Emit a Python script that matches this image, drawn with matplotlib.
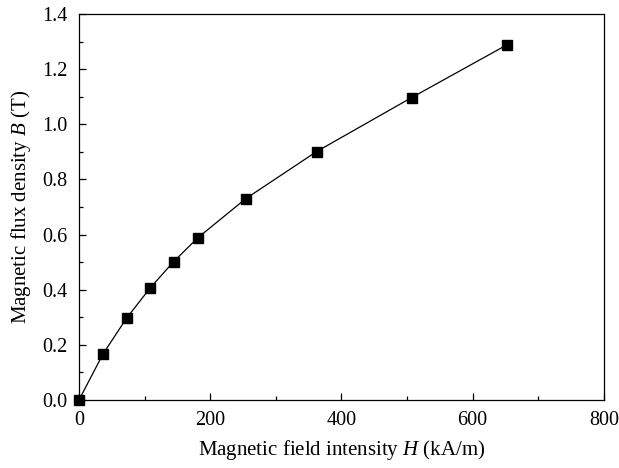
import numpy as np
import matplotlib.pyplot as plt
from matplotlib.ticker import MultipleLocator

H = [0, 36.6, 72.6, 108.7, 144.3, 180.9, 254, 362, 507, 652]
B = [0.0, 0.167, 0.297, 0.407, 0.502, 0.588, 0.730, 0.901, 1.097, 1.288]

plt.rcParams['font.family'] = 'Liberation Serif'
plt.rcParams['mathtext.fontset'] = 'custom'
plt.rcParams['mathtext.it'] = 'Liberation Serif:italic'
plt.rcParams['mathtext.rm'] = 'Liberation Serif'

fig = plt.figure(figsize=(6.19, 4.68), dpi=100)
ax = fig.add_axes([0.1276, 0.1453, 0.848, 0.8247])

ax.plot(H, B, color='black', lw=0.9, marker='s', ms=7, mfc='black', mec='black',
        clip_on=False, zorder=3)

ax.set_xlim(0, 800)
ax.set_ylim(0, 1.4)
ax.xaxis.set_major_locator(MultipleLocator(200))
ax.xaxis.set_minor_locator(MultipleLocator(100))
ax.yaxis.set_major_locator(MultipleLocator(0.2))
ax.yaxis.set_minor_locator(MultipleLocator(0.1))
ax.yaxis.set_major_formatter(plt.FormatStrFormatter('%.1f'))
ax.tick_params(which='both', direction='in', top=False, right=False, labelsize=14.5, width=0.9)
ax.tick_params(which='major', length=5, pad=8)
ax.tick_params(which='minor', length=3)
for s in ax.spines.values():
    s.set_linewidth(0.9)

ax.set_xlabel('Magnetic field intensity $H$ (kA/m)', fontsize=15, labelpad=6)
ax.set_ylabel('Magnetic flux density $B$ (T)', fontsize=15, labelpad=7)

fig.savefig('out.png', dpi=100)
